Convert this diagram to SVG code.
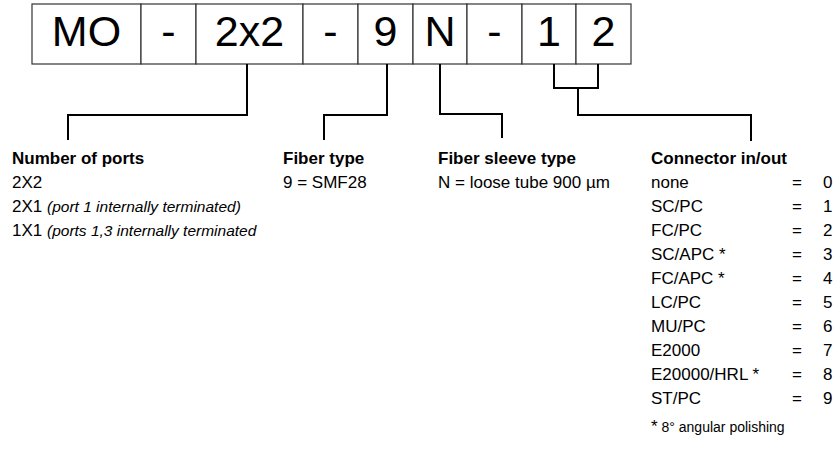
<svg xmlns="http://www.w3.org/2000/svg" width="837" height="468" viewBox="0 0 837 468">
<style>
.cell{fill:#fff;stroke:#333;stroke-width:1.2}
.code{font-family:"Liberation Sans",Arial,sans-serif;font-size:43px;fill:#000;text-anchor:middle}
.conn{fill:none;stroke:#000;stroke-width:2}
.h{font-family:"Liberation Sans",Arial,sans-serif;font-size:17px;font-weight:bold;fill:#000}
.t{font-family:"Liberation Sans",Arial,sans-serif;font-size:17px;fill:#000}
.i{font-family:"Liberation Sans",Arial,sans-serif;font-size:15.5px;font-style:italic;fill:#000}
.f{font-family:"Liberation Sans",Arial,sans-serif;font-size:14px;fill:#000}
</style>
<rect width="837" height="468" fill="#fff"/>
<g id="code">
<rect class="cell" x="32" y="4" width="109" height="60"/>
<rect class="cell" x="141" y="4" width="55" height="60"/>
<rect class="cell" x="196" y="4" width="107" height="60"/>
<rect class="cell" x="303" y="4" width="55" height="60"/>
<rect class="cell" x="358" y="4" width="55" height="60"/>
<rect class="cell" x="413" y="4" width="54" height="60"/>
<rect class="cell" x="467" y="4" width="55" height="60"/>
<rect class="cell" x="522" y="4" width="54" height="60"/>
<rect class="cell" x="576" y="4" width="55" height="60"/>
<text class="code" x="86.5" y="46">MO</text>
<text class="code" x="168.5" y="46">-</text>
<text class="code" x="249.5" y="46">2x2</text>
<text class="code" x="330.5" y="46">-</text>
<text class="code" x="385.5" y="46">9</text>
<text class="code" x="440" y="46">N</text>
<text class="code" x="494.5" y="46">-</text>
<text class="code" x="549" y="46">1</text>
<text class="code" x="603.5" y="46">2</text>
</g>
<g id="connectors">
<polyline class="conn" points="247,64 247,115 68,115 68,140"/>
<polyline class="conn" points="387,64 387,115 324,115 324,140"/>
<polyline class="conn" points="440,64 440,114 502,114 502,138"/>
<polyline class="conn" points="554,64 554,88 598,88 598,64"/>
<polyline class="conn" points="578,88 578,115 751,115 751,141"/>
</g>
<g id="ports">
<text class="h" x="12" y="164">Number of ports</text>
<text class="t" x="12" y="188">2X2</text>
<text class="t" x="12" y="212">2X1 <tspan class="i">(port 1 internally terminated)</tspan></text>
<text class="t" x="12" y="236">1X1 <tspan class="i">(ports 1,3 internally terminated</tspan></text>
</g>
<g id="fiber-type">
<text class="h" x="283" y="164">Fiber type</text>
<text class="t" x="283" y="188">9 = SMF28</text>
</g>
<g id="sleeve">
<text class="h" x="438" y="164">Fiber sleeve type</text>
<text class="t" x="438" y="188">N = loose tube 900 µm</text>
</g>
<g id="connector-in-out">
<text class="h" x="651" y="164">Connector in/out</text>
<g class="t">
<text x="651" y="188">none</text><text x="792" y="188">=</text><text x="823" y="188">0</text>
<text x="651" y="212">SC/PC</text><text x="792" y="212">=</text><text x="823" y="212">1</text>
<text x="651" y="236">FC/PC</text><text x="792" y="236">=</text><text x="823" y="236">2</text>
<text x="651" y="260">SC/APC *</text><text x="792" y="260">=</text><text x="823" y="260">3</text>
<text x="651" y="284">FC/APC *</text><text x="792" y="284">=</text><text x="823" y="284">4</text>
<text x="651" y="308">LC/PC</text><text x="792" y="308">=</text><text x="823" y="308">5</text>
<text x="651" y="332">MU/PC</text><text x="792" y="332">=</text><text x="823" y="332">6</text>
<text x="651" y="356">E2000</text><text x="792" y="356">=</text><text x="823" y="356">7</text>
<text x="651" y="380">E20000/HRL *</text><text x="792" y="380">=</text><text x="823" y="380">8</text>
<text x="651" y="404">ST/PC</text><text x="792" y="404">=</text><text x="823" y="404">9</text>
</g>
<text class="f" x="651" y="432"><tspan font-size="17px">*</tspan> 8° angular polishing</text>
</g>
</svg>
